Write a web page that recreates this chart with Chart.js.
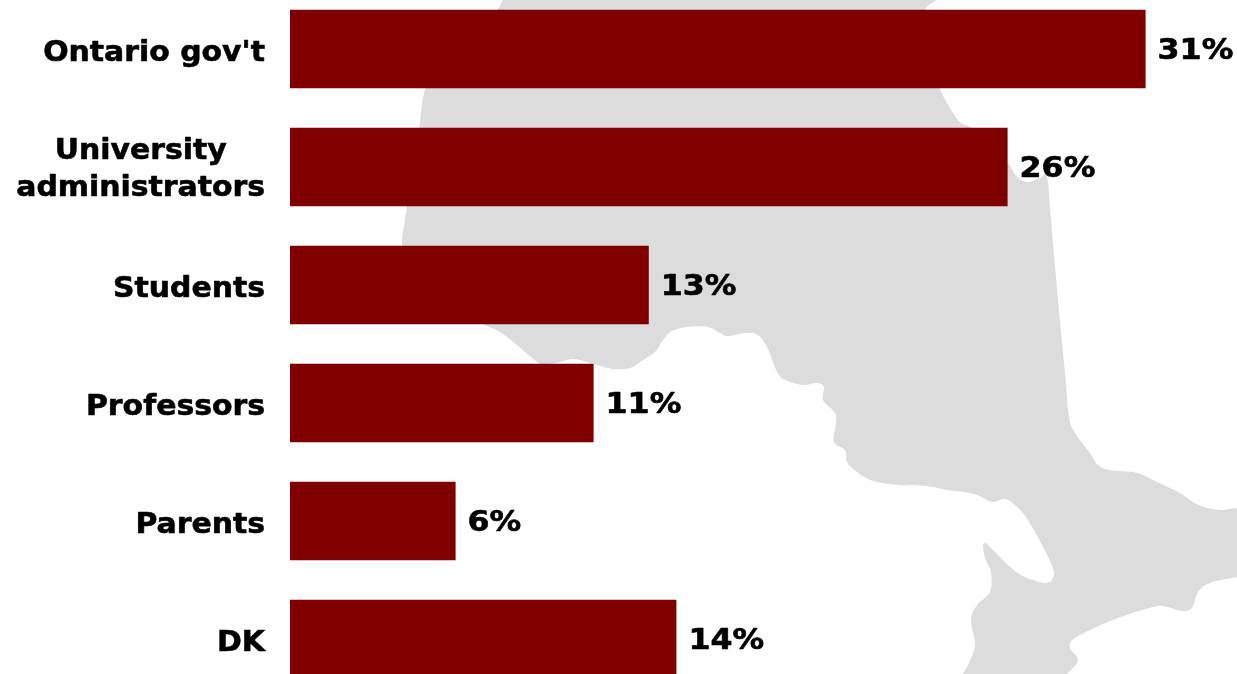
<!DOCTYPE html>
<html>
<head>
<meta charset="utf-8">
<title>Ontario</title>
<script src="https://cdn.jsdelivr.net/npm/chart.js@4/dist/chart.umd.min.js"></script>
<style>
  html, body { margin: 0; padding: 0; background: #fff; overflow: hidden; }
  #wrap { position: relative; width: 1237px; height: 674px; overflow: hidden; }
  #map { position: absolute; left: 0; top: 0; }
  #chart { position: absolute; left: 0; top: -10px; }
</style>
</head>
<body>
<div id="wrap">
  <!-- province outline behind the bars -->
  <svg id="map" width="1237" height="674" viewBox="0 0 1237 674">
    <path id="province" fill="#dcdcdc" d=""></path>
  </svg>
  <canvas id="chart" width="1237" height="708"></canvas>
</div>
<script>
const categories = ["Ontario gov't", ["University", "administrators"], "Students", "Professors", "Parents", "DK"];
const shares = [31, 26, 13, 11, 6, 14];

const barColor = "#800000";
const labelFont = "bold 28px 'DejaVu Sans'";
const categoryStretch = 1.067;
const valueStretch = 1.13;

// outline traced clockwise, smoothed below
const outline = [
  [530,-20],[700,-20],[945,-20],[925,10],[925,50],[940,89],[950,108],[960,122],[973,129],[995,150],[1008,163],[1017,177],[1028,182],
  [1040,178],[1047,177],[1051,220],[1058,300],[1065,373],[1069,417],[1075,433],[1090,453],[1098,465],
  [1110,470],[1137,473],[1157,482],[1180,493],[1193,502],[1207,508],[1222,510],[1237,508],[1250,508],
  [1250,575],[1237,577],[1210,583],[1198,592],[1192,608],[1182,611],[1167,607],[1153,607],[1113,620],
  [1075,638],[1070,648],[1078,660],[1067,674],[1050,690],[955,690],[963,674],[968,665],[975,645],[971,620],
  [977,605],[990,592],[991,572],[985,558],[985,543],[1008,565],[1023,576],[1045,583],[1053,578],[1053,568],
  [1043,547],[1028,520],[1017,507],[1005,499],[992,502],[977,495],[963,492],[947,490],[927,486],[900,485],
  [873,481],[857,472],[847,462],[845,450],[834,442],[836,423],[835,413],[823,400],[824,387],[817,383],
  [803,385],[785,380],[777,372],[767,347],[758,335],[747,333],[728,336],[720,333],[708,327],[687,327],
  [672,331],[663,340],[655,352],[640,362],[630,368],[613,369],[594,364],[587,362],[573,359],[560,362],
  [547,364],[537,362],[517,345],[500,332],[483,324],[440,300],[410,275],[402,246],[407,207],[419,129],[425,89],[440,60],[470,32],[497,10]
];

function outlinePath(pts) {
  // closed Catmull-Rom through the traced points
  let d = "M" + pts[0][0] + " " + pts[0][1];
  const n = pts.length;
  for (let i = 0; i < n; i++) {
    const p0 = pts[(i - 1 + n) % n], p1 = pts[i], p2 = pts[(i + 1) % n], p3 = pts[(i + 2) % n];
    const c1x = p1[0] + (p2[0] - p0[0]) / 6, c1y = p1[1] + (p2[1] - p0[1]) / 6;
    const c2x = p2[0] - (p3[0] - p1[0]) / 6, c2y = p2[1] - (p3[1] - p1[1]) / 6;
    d += "C" + c1x + " " + c1y + " " + c2x + " " + c2y + " " + p2[0] + " " + p2[1];
  }
  return d + "Z";
}
document.getElementById("province").setAttribute("d", outlinePath(outline));

// fill plus a thin stroke, the plain bold face is a little light at this size
function heavyText(ctx, text) {
  ctx.strokeStyle = "#000";
  ctx.lineWidth = 0.6;
  ctx.lineJoin = "round";
  ctx.strokeText(text, 0, 0);
  ctx.fillText(text, 0, 0);
}

// category names, wrapped lines centred on the widest line, right edge at the axis gutter
const categoryLabels = {
  id: "categoryLabels",
  afterDatasetsDraw(chart) {
    const ctx = chart.ctx;
    const yScale = chart.scales.y;
    ctx.save();
    ctx.font = labelFont;
    ctx.fillStyle = "#000";
    ctx.textBaseline = "alphabetic";
    ctx.textAlign = "center";
    categories.forEach((name, i) => {
      const lines = Array.isArray(name) ? name : [name];
      const y = yScale.getPixelForTick(i);
      const widest = Math.max(...lines.map((l) => ctx.measureText(l).width)) * categoryStretch;
      lines.forEach((line, j) => {
        ctx.save();
        const baseline = lines.length > 1 ? y - 8.5 + j * 37 : y + 12;
        ctx.translate(265 - widest / 2, baseline);
        ctx.scale(categoryStretch, 1);
        heavyText(ctx, line);
        ctx.restore();
      });
    });
    ctx.restore();
  },
};

// value text to the right of each bar
const valueLabels = {
  id: "valueLabels",
  afterDatasetsDraw(chart) {
    const ctx = chart.ctx;
    const meta = chart.getDatasetMeta(0);
    ctx.save();
    ctx.font = labelFont;
    ctx.fillStyle = "#000";
    ctx.textAlign = "left";
    ctx.textBaseline = "alphabetic";
    meta.data.forEach((bar, i) => {
      ctx.save();
      ctx.translate(bar.x + 12, bar.y + 10);
      ctx.scale(valueStretch, 1);
      heavyText(ctx, shares[i] + "%");
      ctx.restore();
    });
    ctx.restore();
  },
};

new Chart(document.getElementById("chart"), {
  type: "bar",
  data: {
    labels: categories,
    datasets: [
      {
        data: shares,
        backgroundColor: barColor,
        categoryPercentage: 1,
        barPercentage: 0.667,
      },
    ],
  },
  options: {
    indexAxis: "y",
    responsive: false,
    animation: false,
    layout: { padding: 0 },
    plugins: { legend: { display: false }, tooltip: { enabled: false } },
    scales: {
      x: { display: false, min: 0, max: 947 / 27.6 },
      y: {
        position: "left",
        grid: { display: false },
        border: { display: false },
        ticks: { display: false },
        afterFit(scale) {
          scale.width = 290;
        },
      },
    },
  },
  plugins: [categoryLabels, valueLabels],
});
</script>
</body>
</html>
